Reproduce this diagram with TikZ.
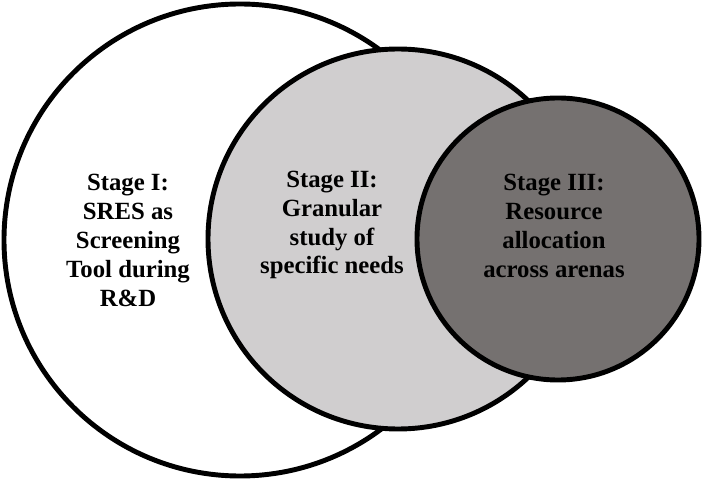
\documentclass[tikz,border=0pt]{standalone}
\usepackage{fontspec}
\setmainfont{Liberation Serif}
\usepackage{tikz}
\usetikzlibrary{positioning}
\definecolor{stagelight}{RGB}{208,206,207}
\definecolor{stagedark}{RGB}{117,113,112}
\begin{document}
\begin{tikzpicture}[
ring/.style={circle, draw, line width = 3.5pt, inner sep = 0pt},
lbl/.style={align=center, font=\bfseries\fontsize{17.6}{20.6}\selectfont}]
\useasboundingbox (0,0) rectangle (17.55,11.975);
\node[ring, fill=white, minimum size = 11.8cm] (c1) at (6.0,5.975) {};
\node[ring, fill=stagelight, minimum size = 9.5cm] (c2) at (9.95,6.0) {};
\node[ring, fill=stagedark, minimum size = 7.05cm] (c3) at (13.95,6.0) {};
\node[lbl] (t1) at (3.2,5.97) {Stage I:\\SRES as\\Screening\\Tool during\\R\&D};
\node[lbl] (t2) at (8.3,6.35) {Stage II:\\Granular\\study of\\specific needs};
\node[lbl] (t3) at (13.85,6.33) {Stage III:\\Resource\\allocation\\across arenas};
\end{tikzpicture}
\end{document}
